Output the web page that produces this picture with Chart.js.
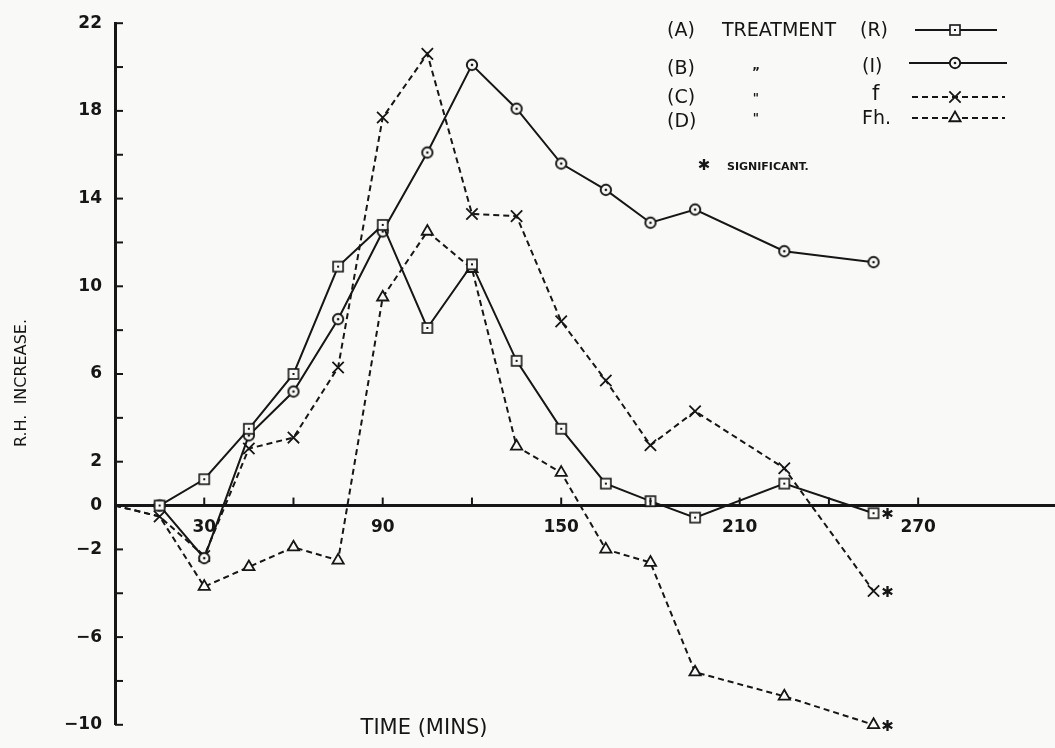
<!DOCTYPE html>
<html>
<head>
<meta charset="utf-8">
<script src="https://cdn.jsdelivr.net/npm/chart.js@4.4.0/dist/chart.umd.min.js"></script>
<style>
  html, body { margin: 0; padding: 0; background: #f9f9f7; }
  canvas { display: block; }
</style>
</head>
<body>
<canvas id="rh" width="1055" height="748"></canvas>
<script>
// Sampling times (minutes) shared by all four treatments
const timeMins = [0, 15, 30, 45, 60, 75, 90, 105, 120, 135, 150, 165, 180, 195, 225, 255];

// R.H. increase for each treatment (null = not measured)
const treatR  = [null, 0, 1.2, 3.5, 6.0, 10.9, 12.8, 8.1, 11.0, 6.6, 3.5, 1.0, 0.2, -0.55, 1.0, -0.35];
const treatI  = [null, 0, -2.4, 3.2, 5.2, 8.5, 12.5, 16.1, 20.1, 18.1, 15.6, 14.4, 12.9, 13.5, 11.6, 11.1];
const treatF  = [0, -0.5, -2.3, 2.6, 3.1, 6.3, 17.7, 20.6, 13.3, 13.2, 8.4, 5.7, 2.75, 4.3, 1.7, -3.9];
const treatFh = [0, -0.5, -3.7, -2.8, -1.9, -2.5, 9.5, 12.5, 10.8, 2.7, 1.5, -2.0, -2.6, -7.6, -8.7, -10.0];

// Labelled ticks
const xTickLabels = [30, 90, 150, 210, 270];
const yTickLabels = [22, 18, 14, 10, 6, 2, 0, -2, -6, -10];

// Legend text
const legendLetters = ['(A)', '(B)', '(C)', '(D)'];
const legendNames = ['(R)', '(I)', 'f', 'Fh.'];
// Final reading significant?
const significant = [true, false, true, true];

const INK = '#161616';
const PAPER = '#f9f9f7';
const FONT = '"DejaVu Sans", sans-serif';

function markerCanvas(draw) {
  const c = document.createElement('canvas');
  c.width = 16; c.height = 16;
  draw(c.getContext('2d'));
  return c;
}
// hollow square with a centre dot
const squareMark = markerCanvas(g => {
  g.fillStyle = PAPER; g.fillRect(3, 3, 10, 10);
  g.strokeStyle = INK; g.lineWidth = 1.6; g.strokeRect(3, 3, 10, 10);
  g.fillStyle = INK; g.fillRect(7, 7, 2, 2);
});
// hollow circle with a centre dot
const circleMark = markerCanvas(g => {
  g.beginPath(); g.arc(8, 8, 5.2, 0, Math.PI * 2);
  g.fillStyle = PAPER; g.fill();
  g.lineWidth = 1.9; g.strokeStyle = INK; g.stroke();
  g.beginPath(); g.arc(8, 8, 1.3, 0, Math.PI * 2);
  g.fillStyle = INK; g.fill();
});

function toPoints(values) {
  const pts = [];
  timeMins.forEach((t, i) => { if (values[i] !== null) pts.push({ x: t, y: values[i] }); });
  return pts;
}

function series(values, style, dashed, markFrom, radius) {
  return {
    data: toPoints(values),
    borderColor: INK,
    borderWidth: 2,
    borderDash: dashed ? [6, 4] : [],
    backgroundColor: PAPER,
    pointStyle: style,
    pointRadius: ctx => (ctx.raw && ctx.raw.x >= markFrom ? radius : 0),
    pointBorderWidth: 1.8,
    pointBorderColor: INK,
    pointBackgroundColor: PAPER,
    tension: 0,
    fill: false,
    clip: false
  };
}

const datasets = [
  series(treatR, squareMark, false, 15, 6),
  series(treatI, circleMark, false, 15, 6),
  series(treatF, 'crossRot', true, 15, 8),
  series(treatFh, 'triangle', true, 30, 6.5)
];

const annotate = {
  id: 'annotate',
  afterDraw(chart) {
    const ctx = chart.ctx;
    const xs = chart.scales.x, ys = chart.scales.y;
    ctx.save();
    ctx.strokeStyle = INK;
    ctx.fillStyle = INK;
    ctx.lineWidth = 2;
    ctx.setLineDash([]);

    // tick marks: upward on the time axis, inward on the R.H. axis
    const y0 = ys.getPixelForValue(0);
    for (let t = 30; t <= 270; t += 30) {
      const px = xs.getPixelForValue(t);
      ctx.beginPath(); ctx.moveTo(px, y0); ctx.lineTo(px, y0 - 8); ctx.stroke();
    }
    const left = chart.chartArea.left;
    for (let v = -10; v <= 22; v += 2) {
      if (v === 0) continue;
      const py = ys.getPixelForValue(v);
      ctx.beginPath(); ctx.moveTo(left, py); ctx.lineTo(left + 8, py); ctx.stroke();
    }

    // axis titles
    ctx.textBaseline = 'middle';
    ctx.textAlign = 'center';
    ctx.font = '21px ' + FONT;
    ctx.fillText('TIME (MINS)', 424, 729);
    ctx.save();
    ctx.translate(22, 383);
    ctx.rotate(-Math.PI / 2);
    ctx.font = '16px ' + FONT;
    ctx.fillText('R.H.  INCREASE.', 0, 0);
    ctx.restore();

    // significance stars beside final readings
    ctx.font = 'bold 15px ' + FONT;
    chart.data.datasets.forEach((ds, i) => {
      if (!significant[i]) return;
      const pts = chart.getDatasetMeta(i).data;
      const p = pts[pts.length - 1];
      ctx.fillText('\u2731', p.x + 14, p.y + 2);
    });

    // key
    const rowsY = [31, 69, 98, 122];
    const sampleY = [30, 63, 97, 118];
    const sampleX = [[915, 997], [909, 1007], [912, 1005], [912, 1005]];
    const sampleR = [6, 6, 8, 6.5];
    ctx.textAlign = 'left';
    ctx.font = '19px ' + FONT;
    legendLetters.forEach((s, i) => ctx.fillText(s, 667, rowsY[i]));
    ctx.fillText('TREATMENT', 722, 31);
    ctx.textAlign = 'center';
    ctx.font = 'bold 12px ' + FONT;
    ctx.fillText('\u201D', 756, 73);
    ctx.fillText('"', 756, 99);
    ctx.fillText('"', 756, 119);
    ctx.textAlign = 'left';
    ctx.font = '19px ' + FONT;
    ctx.fillText(legendNames[0], 860, 31);
    ctx.fillText(legendNames[1], 862, 67);
    ctx.font = '21px ' + FONT;
    ctx.fillText(legendNames[2], 872, 95);
    ctx.font = '19px ' + FONT;
    ctx.fillText(legendNames[3], 862, 119);

    chart.data.datasets.forEach((ds, i) => {
      const y = sampleY[i];
      ctx.lineWidth = 1.8;
      ctx.setLineDash(ds.borderDash.length ? [6, 4] : []);
      ctx.beginPath(); ctx.moveTo(sampleX[i][0], y); ctx.lineTo(sampleX[i][1], y); ctx.stroke();
      ctx.setLineDash([]);
      ctx.fillStyle = PAPER;
      ctx.strokeStyle = INK;
      ctx.lineWidth = 1.8;
      Chart.helpers.drawPoint(ctx, { pointStyle: ds.pointStyle, radius: sampleR[i], rotation: 0, borderWidth: 1.8 }, 955, y);
      ctx.fillStyle = INK;
    });

    ctx.font = 'bold 15px ' + FONT;
    ctx.textAlign = 'center';
    ctx.fillText('\u2731', 704, 166);
    ctx.textAlign = 'left';
    ctx.font = 'bold 11px ' + FONT;
    ctx.fillText('SIGNIFICANT.', 727, 167);
    ctx.restore();
  }
};

new Chart(document.getElementById('rh'), {
  type: 'line',
  data: { datasets },
  options: {
    responsive: false,
    animation: false,
    events: [],
    layout: { autoPadding: false, padding: { left: 0, right: 0, top: 16, bottom: 12 } },
    plugins: { legend: { display: false }, tooltip: { enabled: false }, title: { display: false } },
    scales: {
      x: {
        type: 'linear',
        min: 0,
        max: 316,
        position: { y: 0 },
        afterFit(scale) { scale.paddingLeft = 0; scale.paddingRight = 0; },
        grid: { display: false, drawTicks: false },
        border: { display: true, width: 3, color: INK },
        ticks: {
          stepSize: 30,
          autoSkip: false,
          maxRotation: 0,
          padding: 12,
          color: INK,
          font: { family: FONT, size: 17, weight: 'bold' },
          callback: v => (xTickLabels.includes(v) ? String(v) : '')
        }
      },
      y: {
        type: 'linear',
        min: -10,
        max: 22,
        position: 'left',
        afterFit(scale) { scale.width = 115; },
        grid: { display: false, drawTicks: false },
        border: { display: true, width: 3, color: INK },
        ticks: {
          stepSize: 2,
          autoSkip: false,
          padding: 13,
          color: INK,
          font: { family: FONT, size: 17, weight: 'bold' },
          callback: v => (yTickLabels.includes(v) ? String(v).replace('-', '\u2212') : '')
        }
      }
    }
  },
  plugins: [annotate]
});
</script>
</body>
</html>
